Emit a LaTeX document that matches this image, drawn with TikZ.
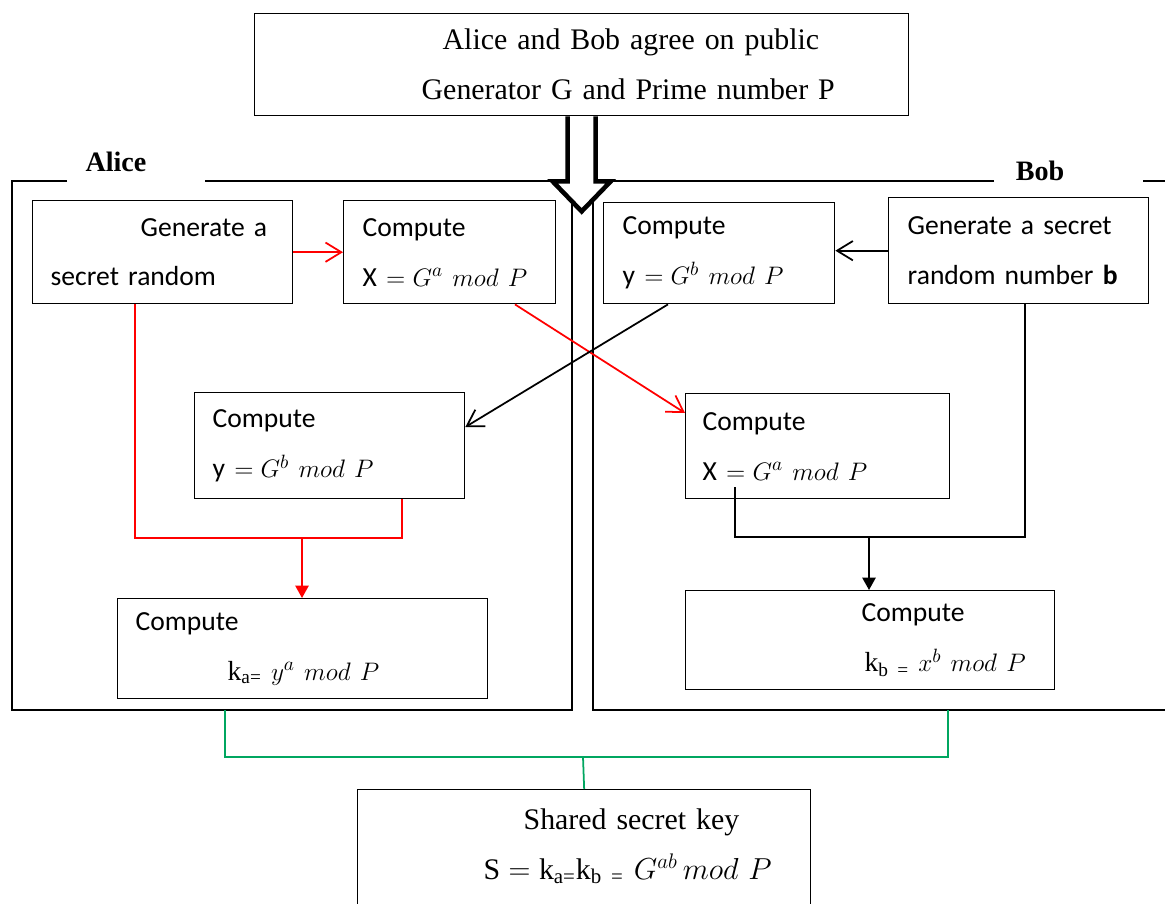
\documentclass[tikz,border=0pt]{standalone}
\usepackage{amsmath}
\usepackage{fontspec}
\setmainfont{Liberation Serif}
\newfontfamily\calibri{Carlito}
\newfontfamily\tnr{Liberation Serif}
\usetikzlibrary{arrows.meta}
\newcommand{\cbfont}{\calibri\fontsize{15.7pt}{28.4pt}\selectfont}
\newcommand{\tmfont}{\fontsize{17pt}{28.4pt}\selectfont}
\newcommand{\whofont}{\bfseries\fontsize{16pt}{19pt}\selectfont}
\newcommand{\up}[1]{\text{\tnr #1}}
\definecolor{linkgreen}{RGB}{0,166,96}
\tikzstyle{box} = [rectangle, draw=black, line width=0.8pt, anchor=north west, inner xsep=0pt, align=left, font=\cbfont]
\tikzstyle{pubbox} = [box, font=\tmfont]
\tikzstyle{who} = [font=\whofont, anchor=base, inner sep=0pt]
\tikzstyle{frame} = [line width=1.3pt]
\tikzstyle{bigarrow} = [line width=2.6pt, fill=white, line join=miter]
\tikzstyle{redarrow} = [red, line width=1pt, ->, >={Straight Barb[length=9pt, width=11pt]}]
\tikzstyle{redline} = [red, line width=1pt]
\tikzstyle{redhead} = [red, line width=1pt, ->, >={Triangle[length=7pt, width=7.5pt]}]
\tikzstyle{blkarrow} = [black, line width=1pt, ->, >={Straight Barb[length=9pt, width=11pt]}]
\tikzstyle{blkline} = [black, line width=1pt]
\tikzstyle{blkhead} = [black, line width=1pt, ->, >={Triangle[length=7pt, width=7.5pt]}]
\tikzstyle{link} = [draw=linkgreen, line width=1pt]

\begin{document}
\begin{tikzpicture}[x=0.02cm, y=-0.02cm]

    \useasboundingbox (0,0) rectangle (1165,903);
    \clip (0,0) rectangle (1165,903);

    % the two sides
    \draw [frame] (67,181) -- (12,181) -- (12,710) -- (572,710) -- (572,181) -- (205,181);
    \draw [frame] (994,181) -- (593,181) -- (593,710) -- (1166,710);
    \draw [frame] (1143,181) -- (1166,181);
    \node [who] (alice) at (116,171) {Alice};
    \node [who] (bob) at (1040,180) {Bob};

    % public values
    \node [pubbox, text width=13.08cm, minimum height=2.04cm] (pub) at (254,13)
        {\hspace*{3.76cm}Alice and Bob agree on public\\ \hspace*{3.34cm}Generator G and Prime number P};
    \draw [bigarrow] ([xshift=-0.28cm]pub.south) -- ++(0,65) -- ++(-15,0) -- ++(29,30)
        -- ++(29,-30) -- ++(-15,0) -- ([xshift=0.28cm]pub.south);

    % Alice
    \node [box, text width=5.2cm, minimum height=2.06cm] (genA) at (32,200)
        {\hspace*{2.16cm}Generate a\\ \hspace*{0.36cm}secret random};
    \node [box, text width=4.24cm, minimum height=2.06cm] (compXA) at (343,200)
        {\hspace*{0.38cm}Compute\\ \hspace*{0.38cm}X $= G^{a}\ mod\ P$};
    \node [box, text width=5.4cm, minimum height=2.12cm] (compYA) at (194,392)
        {\hspace*{0.36cm}Compute\\ \hspace*{0.36cm}y $= G^{b}\ mod\ P$};
    \node [box, text width=7.4cm, minimum height=2cm] (kaA) at (117,598)
        {\hspace*{0.36cm}Compute\\ \hspace*{2.2cm}$\up{k}_{\up{a=}}\ y^{a}\ mod\ P$};

    % Bob
    \node [box, text width=4.62cm, minimum height=2.02cm] (compYB) at (603,202)
        {\hspace*{0.38cm}Compute\\ \hspace*{0.38cm}y $= G^{b}\ mod\ P$};
    \node [box, text width=5.2cm, minimum height=2.12cm] (genB) at (888,197)
        {\hspace*{0.38cm}Generate a secret\\ \hspace*{0.38cm}random number \textbf{b}};
    \node [box, text width=5.28cm, minimum height=2.1cm] (compXB) at (685,393)
        {\hspace*{0.34cm}Compute\\ \hspace*{0.34cm}X $= G^{a}\ mod\ P$};
    \node [box, text width=7.38cm, minimum height=1.98cm] (kbB) at (685,590)
        {\hspace*{3.52cm}Compute\\ \hspace*{3.58cm}$\up{k}_{\up{b =}}\ x^{b}\ mod\ P$};

    % shared key
    \node [pubbox, text width=9.06cm, minimum height=2.46cm] (shared) at (357,789)
        {\hspace*{3.32cm}Shared secret key\\ \hspace*{2.52cm}$\up{S} = \up{k}_{\up{a=}}\up{k}_{\up{b =}}\ G^{ab}\,mod\ P$\rule[-0.3cm]{0pt}{0.3cm}};

    % Alice's flow
    \draw [redarrow] (genA.east) -- (compXA.west);
    \coordinate (joinA) at (302,538);
    \draw [redline] ([xshift=2.06cm]genA.south west) |- (joinA) -| ([xshift=4.16cm]compYA.south west);
    \draw [redhead] (joinA) -- (joinA |- kaA.north);
    \draw [redarrow] ([xshift=3.44cm]compXA.south west) -- ([yshift=-0.4cm]compXB.north west);

    % Bob's flow
    \draw [blkarrow] (genB.west) -- (genB.west -| compYB.east);
    \draw [blkarrow] ([xshift=1.3cm]compYB.south west) -- ([yshift=-0.7cm]compYA.north east);
    \coordinate (joinB) at (869,537);
    \draw [blkline] ([xshift=2.74cm]genB.south west) |- (joinB) -| ([xshift=1cm, yshift=0.24cm]compXB.south west);
    \draw [blkhead] (joinB) -- (joinB |- kbB.north);

    % both keys meet
    \coordinate (aliceEnd) at (225,710);
    \coordinate (bobEnd) at (948,710);
    \coordinate (joinS) at (583,757);
    \draw [link] (aliceEnd) |- (joinS) -| (bobEnd);
    \draw [link] (joinS) -- (shared.north);

\end{tikzpicture}
\end{document}
